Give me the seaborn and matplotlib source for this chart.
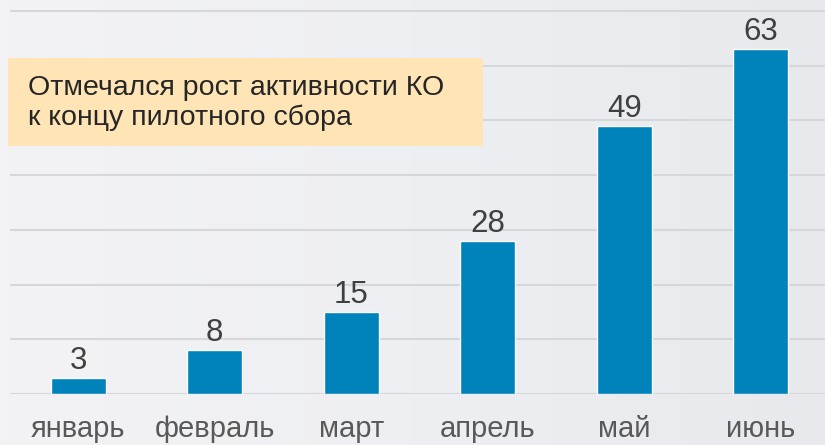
import matplotlib
matplotlib.use("Agg")
import matplotlib.pyplot as plt
import seaborn as sns
import pandas as pd
import numpy as np
from matplotlib.patches import Rectangle
from matplotlib.colors import LinearSegmentedColormap

months = ["январь", "февраль", "март", "апрель", "май", "июнь"]
values = [3, 8, 15, 28, 49, 63]
note = "Отмечался рост активности КО\nк концу пилотного сбора"

sns.set_theme(style="white")
plt.rcParams['font.family'] = ['Liberation Sans', 'DejaVu Sans']

W, H = 825, 445
fig = plt.figure(figsize=(W / 100, H / 100), dpi=100)

# soft background gradient
bgax = fig.add_axes([0, 0, 1, 1], zorder=-10)
grad = np.linspace(0, 1, 256)[None, :]
cmap = LinearSegmentedColormap.from_list("bg", ["#f3f3f5", "#eeeff2", "#e8e9ed"])
bgax.imshow(grad, aspect="auto", cmap=cmap, extent=[0, 1, 0, 1])
bgax.set_axis_off()

ax = fig.add_axes([10 / W, (H - 394) / H, 819 / W, 394 / H])
ax.patch.set_alpha(0)

df = pd.DataFrame({"month": months, "value": values})
sns.barplot(data=df, x="month", y="value", color="#0082ba", width=0.4,
            saturation=1, ax=ax, zorder=3)

ax.set_xlim(-0.5, 5.5)
ax.set_ylim(0, 72)
ax.set_yticks(range(0, 71, 10))
ax.yaxis.grid(True, color="#d6d7da", linewidth=1.5, zorder=0)
ax.set_axisbelow(True)
for s in ax.spines.values():
    s.set_visible(False)
ax.set_ylabel("")
ax.set_xlabel("")
ax.tick_params(axis="y", left=False, labelleft=False)
ax.tick_params(axis="x", bottom=False, labelsize=21, labelcolor="#595959", pad=9)

for i, v in enumerate(values):
    ax.text(i, v + 1.6, str(v), ha="center", va="baseline", fontsize=22.5,
            color="#404040", zorder=4)

fig.patches.append(Rectangle((8 / W, (H - 146) / H), 475 / W, 88 / H,
                             transform=fig.transFigure, facecolor="#ffe4b5",
                             edgecolor="none", zorder=5))
fig.text(28 / W, (H - 103) / H, note, ha="left", va="center", fontsize=20.5,
         color="#262626", linespacing=1.2, zorder=6)

fig.savefig("out.png", dpi=100)
